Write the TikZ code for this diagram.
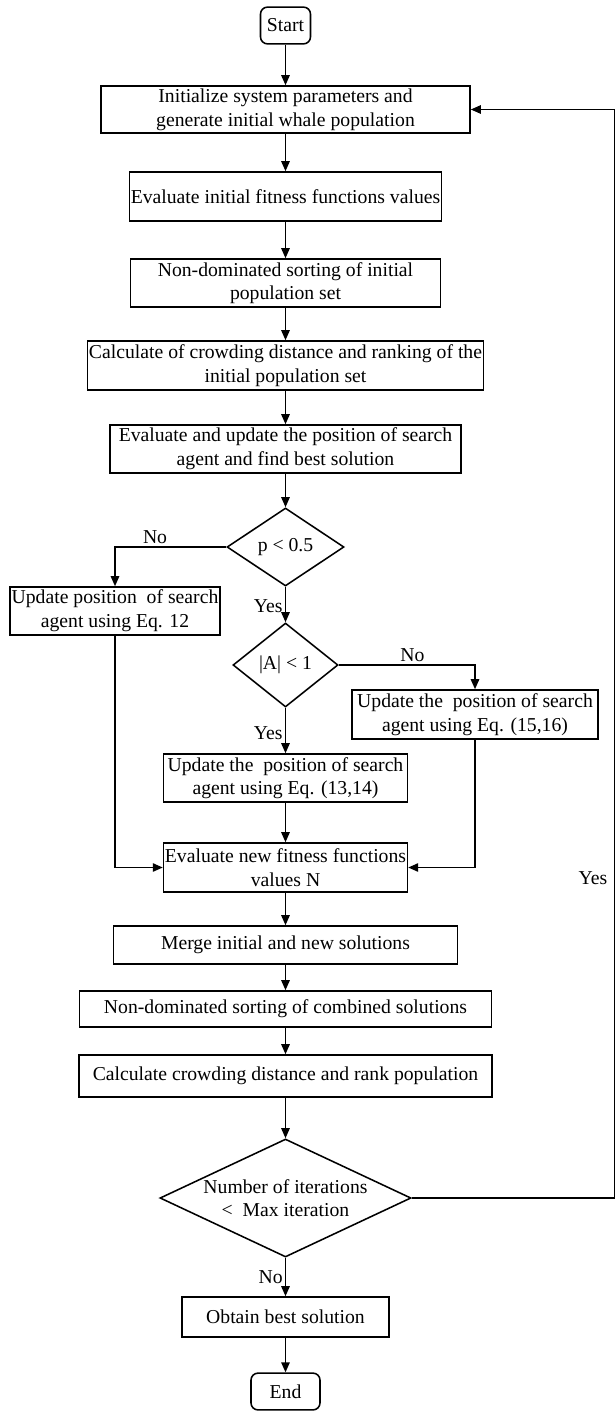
\documentclass[tikz,border=0pt]{standalone}
\usepackage{fontspec}
\setmainfont{Liberation Serif}
\usetikzlibrary{shapes.geometric, arrows.meta, positioning, calc}

\begin{document}
\begin{tikzpicture}[x=0.025cm, y=-0.025cm,
    every node/.style={font=\fontsize{14}{16.8}\selectfont},
    terminal/.style={rectangle, draw, rounded corners=5pt, line width=1.1pt, minimum width=1.25cm, minimum height=0.92cm, inner sep=1pt},
    process/.style={rectangle, draw, line width=1.1pt, align=center, inner sep=1pt},
    decision/.style={diamond, draw, line width=1.1pt, align=center, inner sep=0pt},
    lbl/.style={inner sep=1.5pt},
    arrow/.style={-{Triangle[length=2.5mm, width=2.1mm]}, line width=1.1pt}
]
\useasboundingbox (0,0) rectangle (615,1411);

\node[terminal] (start) at (285.5,25.5) {Start};
\node[process, minimum width=9.225cm, minimum height=1.175cm] (init) at (285.5,109.5) {Initialize system parameters and\\generate initial whale population};
\node[process, minimum width=7.6cm, minimum height=1.225cm] (evalinit) at (285.5,196.5) {Evaluate initial fitness functions values};
\node[process, minimum width=7.75cm, minimum height=1.2cm] (sortinit) at (285.5,283) {Non-dominated sorting of initial\\population set};
\node[process, minimum width=9.825cm, minimum height=1.225cm] (crowdinit) at (285.5,365.5) {Calculate of crowding distance and ranking of the\\initial population set};
\node[process, minimum width=8.775cm, minimum height=1.2cm] (evalupd) at (285.5,449) {Evaluate and update the position of search\\agent and find best solution};

\node[decision, aspect=1.5, minimum width=2.925cm, minimum height=1.95cm] (pcheck) at (285.5,547) {p < 0.5};
\node[process, minimum width=5.25cm, minimum height=1.2cm] (eq12) at (115,611) {Update position\ \ of search\\agent using Eq. 12};
\node[decision, aspect=1.25, minimum width=2.625cm, minimum height=2.1cm] (aabs) at (285.5,665) {|A| < 1};
\node[process, minimum width=6.15cm, minimum height=1.225cm] (eq1516) at (475,714.5) {Update the\ \ position of search\\agent using Eq. (15,16)};
\node[process, minimum width=6.1cm, minimum height=1.2cm] (eq1314) at (285.5,778) {Update the\ \ position of search\\agent using Eq. (13,14)};
\node[process, minimum width=5.925cm, minimum height=1.225cm] (evalnew) at (285.5,867.5) {Evaluate new fitness functions\\values N};

\node[process, minimum width=8.6cm, minimum height=0.95cm] (merge) at (285.5,945) {Merge initial and new solutions};
\node[process, minimum width=10.3cm, minimum height=0.9cm] (sortcomb) at (285.5,1009) {Non-dominated sorting of combined solutions};
\node[process, minimum width=10.325cm, minimum height=1.05cm] (crowdcomb) at (285.5,1076) {Calculate crowding distance and rank population};
\node[decision, aspect=2.13, minimum width=6.275cm, minimum height=2.95cm] (iter) at (285.5,1198) {Number of iterations\\<\ \ Max iteration};
\node[process, minimum width=5.175cm, minimum height=1cm] (obtain) at (285.5,1317) {Obtain best solution};
\node[terminal, minimum width=1.725cm] (finish) at (285.5,1391.5) {End};

\coordinate (loopc) at (614.5,1198);
\node[lbl] (yesloop) at (593,878) {Yes};

\draw[arrow] (start) -- (init);
\draw[arrow] (init) -- (evalinit);
\draw[arrow] (evalinit) -- (sortinit);
\draw[arrow] (sortinit) -- (crowdinit);
\draw[arrow] (crowdinit) -- (evalupd);
\draw[arrow] (evalupd) -- (pcheck);

\draw[arrow] (pcheck.west) -| node[lbl, pos=0.32, above] (nop) {No} (eq12.north);
\draw[arrow] (pcheck) -- node[lbl, pos=0.55, left] (yesp) {Yes} (aabs);
\draw[arrow] (aabs.east) -| node[lbl, pos=0.27, above] (noa) {No} (eq1516.north);
\draw[arrow] (aabs) -- node[lbl, pos=0.55, left] (yesa) {Yes} (eq1314);
\draw[arrow] (eq1314) -- (evalnew);
\draw[arrow] (eq12.south) |- (evalnew.west);
\draw[arrow] (eq1516.south) |- (evalnew.east);

\draw[arrow] (evalnew) -- (merge);
\draw[arrow] (merge) -- (sortcomb);
\draw[arrow] (sortcomb) -- (crowdcomb);
\draw[arrow] (crowdcomb) -- (iter);
\draw[arrow] (iter) -- node[lbl, pos=0.5, left] (noi) {No} (obtain);
\draw[arrow] (obtain) -- (finish);

% back to the start of the loop
\draw[arrow] (iter.east) -- (loopc) |- (init.east);
\end{tikzpicture}
\end{document}
